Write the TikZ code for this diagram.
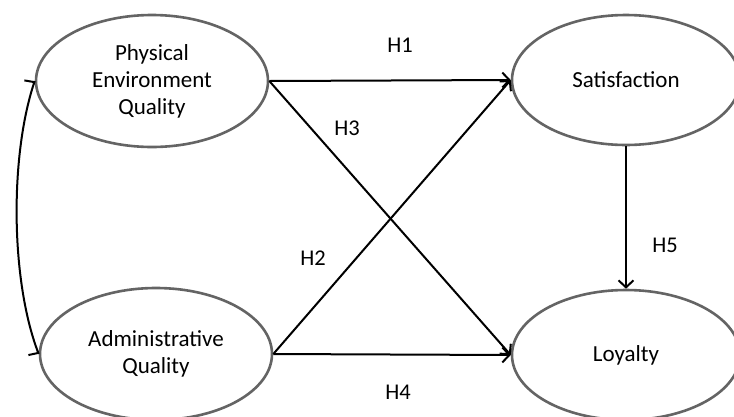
\documentclass[tikz,border=0pt]{standalone}
\usepackage{fontspec}
\setmainfont{Carlito}
\usetikzlibrary{shapes.geometric,arrows.meta}
\begin{document}
\begin{tikzpicture}[x=1pt,y=-1pt,
  latent/.style={ellipse, draw={rgb,255:red,100;green,100;blue,100}, line width=2.6pt, fill=white,
    minimum width=232pt, minimum height=132pt, inner sep=0pt, align=center,
    font=\fontsize{23}{27}\selectfont},
  path/.style={line width=2pt, -{Straight Barb[length=7pt,width=15pt,line width=2pt]}},
  hlab/.style={font=\fontsize{22.5}{26}\selectfont}]
\useasboundingbox (0,0) rectangle (734,416);
\clip (0,0) rectangle (734,416);
\node[latent] (pe) at (152,81) {Physical\\Environment\\Quality};
\node[latent] (aq) at (156,354) {Administrative\\Quality};
\node[latent, minimum width=228pt, minimum height=130pt] (sat) at (626,80) {Satisfaction};
\node[latent, minimum width=228pt, minimum height=130pt] (loy) at (626,355) {Loyalty};
\draw[path] (pe.east) -- (sat.west);
\draw[path] (pe.east) -- (loy.west);
\draw[path] (aq.east) -- (sat.west);
\draw[path] (aq.east) -- (loy.west);
\draw[path] (sat.south) -- (loy.north);
\draw[line width=2pt, {Straight Barb[harpoon,length=1.5pt,width=20pt,line width=2pt]}-{Straight Barb[harpoon,swap,length=1.5pt,width=20pt,line width=2pt]}]
  (pe.west) .. controls +(-25,76) and +(-28,-74) .. (aq.west);
\node[hlab] (h1) at (400,45) {H1};
\node[hlab] (h3) at (347,128) {H3};
\node[hlab] (h2) at (313,258) {H2};
\node[hlab] (h4) at (398,392) {H4};
\node[hlab] (h5) at (665,245) {H5};
\end{tikzpicture}
\end{document}
